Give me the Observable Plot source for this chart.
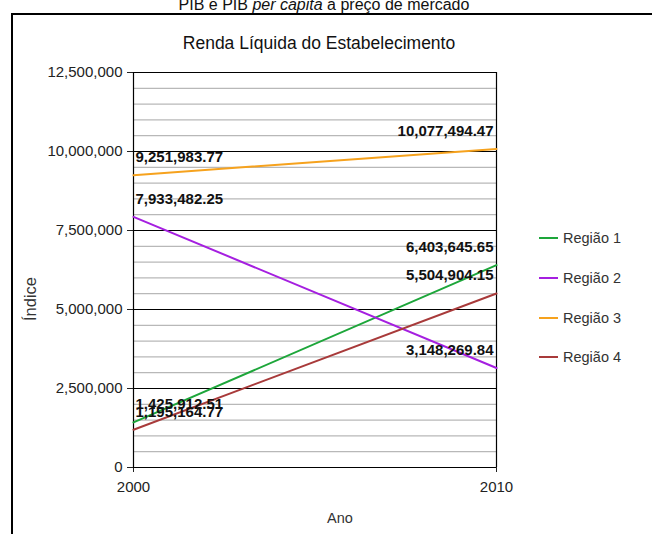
<!DOCTYPE html>
<html>
<head>
<meta charset="utf-8">
<script src="https://cdn.jsdelivr.net/npm/d3@7"></script>
<script src="https://cdn.jsdelivr.net/npm/@observablehq/plot@0.6"></script>
<style>
  html, body { margin: 0; padding: 0; background: #fff; }
  #wrap { position: relative; width: 652px; height: 534px; overflow: hidden; font-family: "Liberation Sans", Arial, Helvetica, sans-serif; }
  #box { position: absolute; left: 11px; top: 13px; width: 700px; height: 600px; border-left: 2px solid #000; border-top: 2px solid #000; }
  #title { position: absolute; left: 0; top: -3px; width: 648px; text-align: center; font-size: 16px; line-height: 16px; color: #111; }
  #subtitle { position: absolute; left: 0; top: 32px; width: 638px; text-align: center; font-size: 17.5px; line-height: 22px; color: #111; }
  #chart { position: absolute; left: 0; top: 0; }
  .leg { position: absolute; left: 539px; height: 18px; line-height: 18px; font-size: 14.5px; color: #333; white-space: nowrap; }
  .leg span.sw { display: inline-block; width: 19px; height: 2.5px; vertical-align: middle; margin-right: 5px; position: relative; top: -1px; }
</style>
</head>
<body>
<div id="wrap">
  <div id="box"></div>
  <div id="title">PIB e PIB <i>per capita</i> a preço de mercado</div>
  <div id="subtitle">Renda Líquida do Estabelecimento</div>
  <div id="chart"></div>
  <div id="legend"></div>
</div>
<script>
const years = [2000, 2010];
const regions = ["Região 1", "Região 2", "Região 3", "Região 4"];
const regiao1 = [1425912.51, 6403645.65];
const regiao2 = [7933482.25, 3148269.84];
const regiao3 = [9251983.77, 10077494.47];
const regiao4 = [1195164.77, 5504904.15];
const colors = ["#1da63a", "#a51fe0", "#f6a21d", "#a83a3a"];
const yTicks = [0, 2500000, 5000000, 7500000, 10000000, 12500000];
const yLabel = "Índice";
const xLabel = "Ano";

const series = [regiao1, regiao2, regiao3, regiao4];
const data = series.flatMap((vals, i) => vals.map((v, j) => ({region: regions[i], year: years[j], value: v, idx: j})));
const minorTicks = d3.ticks(0, 12500000, 25);
const fmt = d3.format(",.2f");

const plot = Plot.plot({
  width: 652,
  height: 534,
  marginLeft: 133,
  marginRight: 156,
  marginTop: 72,
  marginBottom: 67,
  style: {background: "transparent", fontFamily: "'Liberation Sans', Arial, Helvetica, sans-serif", fontSize: "15px", color: "#222"},
  x: {domain: [2000, 2010], ticks: years, tickFormat: d => String(d), tickSize: 5, tickPadding: 9, label: null},
  y: {domain: [0, 12500000], ticks: yTicks, tickFormat: d3.format(","), tickSize: 6, tickPadding: 5, label: null},
  color: {domain: regions, range: colors},
  marks: [
    Plot.ruleY(minorTicks, {stroke: "#b8b8b8", strokeWidth: 1.2}),
    Plot.ruleY(yTicks, {stroke: "#000", strokeWidth: 1.2}),
    Plot.ruleX(years, {stroke: "#000", strokeWidth: 1.2}),
    Plot.line(data, {x: "year", y: "value", z: "region", stroke: "region", strokeWidth: 2}),
    Plot.text(data.filter(d => d.idx === 0), {x: "year", y: "value", text: d => fmt(d.value), textAnchor: "start", dx: 2, dy: -18, fontSize: 15, fontWeight: "bold", fill: "#111"}),
    Plot.text(data.filter(d => d.idx === 1), {x: "year", y: "value", text: d => fmt(d.value), textAnchor: "end", dx: -3, dy: -18, fontSize: 15, fontWeight: "bold", fill: "#111"}),
    Plot.text([yLabel], {frameAnchor: "left", text: d => d, rotate: -90, dx: -103, dy: 51, fontSize: 16.5, fill: "#333"}),
    Plot.text([xLabel], {frameAnchor: "bottom", text: d => d, dx: 25, dy: 55, fontSize: 14.5, fill: "#333"})
  ]
});
document.getElementById("chart").appendChild(plot);

const legend = document.getElementById("legend");
const legTops = [229, 269, 309, 348];
regions.forEach((r, i) => {
  const el = document.createElement("div");
  el.className = "leg";
  el.style.top = legTops[i] + "px";
  const sw = document.createElement("span");
  sw.className = "sw";
  sw.style.background = colors[i];
  el.appendChild(sw);
  el.appendChild(document.createTextNode(r));
  legend.appendChild(el);
});
</script>
</body>
</html>
